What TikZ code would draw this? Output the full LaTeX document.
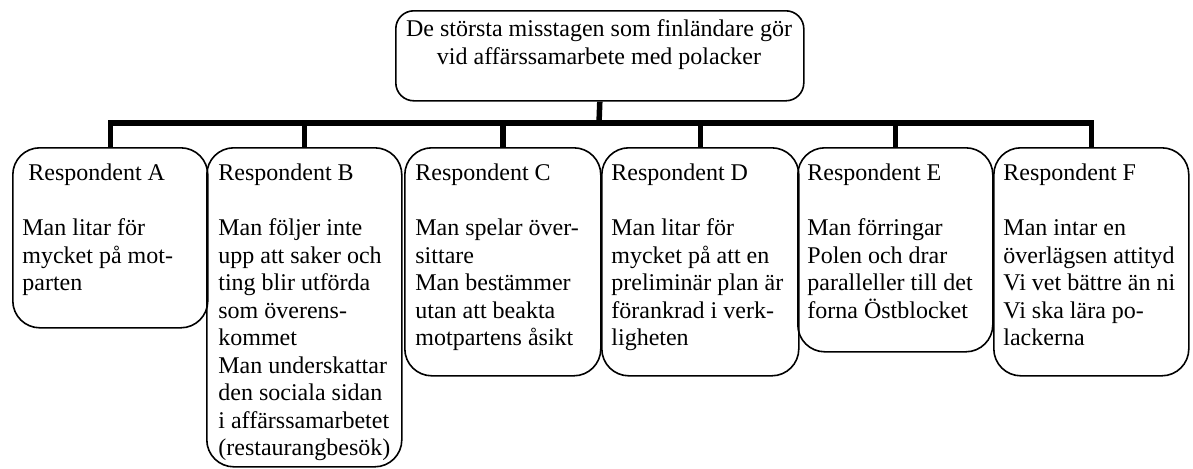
\documentclass[tikz,border=0pt]{standalone}
\usepackage{fontspec}
\setmainfont{Liberation Serif}
\begin{document}
\begin{tikzpicture}[x=0.5pt,y=-0.5pt,
  box/.style={draw, line width=0.8pt, rounded corners=13.5pt, inner sep=0pt, anchor=north west},
  head/.style={draw, line width=0.8pt, rounded corners=9pt, inner sep=0pt, anchor=north west},
  txt/.style={anchor=north west, inner sep=0pt, align=left, font=\fontsize{12}{13.75}\selectfont},
  link/.style={line width=2.75pt}]
\useasboundingbox (0,0) rectangle (1193,468);

% heading box
\node[head, minimum width=204pt, minimum height=45pt] (top) at (395,10) {};
\node[txt, anchor=north, align=center] (toptxt) at (599,19.5)
  {De största misstagen som finländare gör\\vid affärssamarbete med polacker};

% respondent boxes
\node[box, minimum width=97.5pt, minimum height=90pt]   (a) at (12,147) {};
\node[box, minimum width=97.5pt, minimum height=159.5pt] (b) at (206,147) {};
\node[box, minimum width=98pt,   minimum height=114pt]  (c) at (404,147) {};
\node[box, minimum width=98.5pt, minimum height=114pt]  (d) at (601,147) {};
\node[box, minimum width=97.5pt, minimum height=102pt]  (e) at (797,147) {};
\node[box, minimum width=97.5pt, minimum height=114pt]  (f) at (993,147) {};

% box texts
\node[txt] (ta) at (22,163.6) {\hspace*{3pt}Respondent A\\[13.75pt]Man litar för\\mycket på mot-\\parten};
\node[txt] (tb) at (218,163.6) {Respondent B\\[13.75pt]Man följer inte\\upp att saker och\\ting blir utförda\\som överens-\\kommet\\Man underskattar\\den sociala sidan\\i affärssamarbetet\\(restaurangbesök)};
\node[txt] (tc) at (415,163.6) {Respondent C\\[13.75pt]Man spelar över-\\sittare\\Man bestämmer\\utan att beakta\\motpartens åsikt};
\node[txt] (td) at (611,163.6) {Respondent D\\[13.75pt]Man litar för\\mycket på att en\\preliminär plan är\\förankrad i verk-\\ligheten};
\node[txt] (te) at (807,163.6) {Respondent E\\[13.75pt]Man förringar\\Polen och drar\\paralleller till det\\forna Östblocket};
\node[txt] (tf) at (1003,163.6) {Respondent F\\[13.75pt]Man intar en\\överlägsen attityd\\Vi vet bättre än ni\\Vi ska lära po-\\lackerna};

% tree connectors
\coordinate (bar) at (599,123);
\draw[link] (top.south) -- (bar);
\foreach \n in {a,b,c,d,e,f}
  \draw[link] (\n.north) |- (bar);
\end{tikzpicture}
\end{document}
